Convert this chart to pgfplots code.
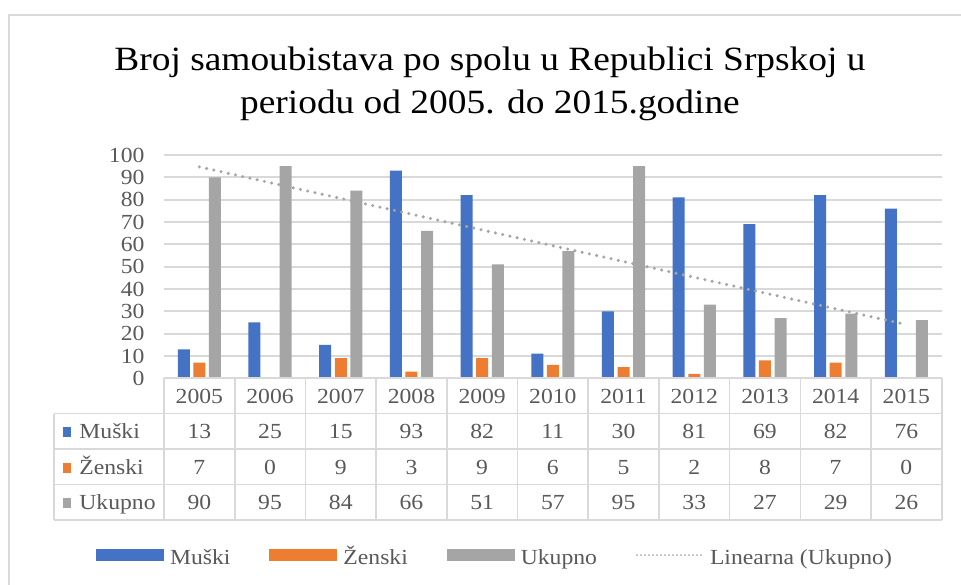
\documentclass[border=0pt]{standalone}
\usepackage{pgfplots}
\pgfplotsset{compat=1.18}
\usepackage{pgfplotstable}
\usepackage{fontspec}
\setmainfont{Liberation Serif}[FakeStretch=1.1]
\definecolor{cM}{HTML}{4472C4}
\definecolor{cZ}{HTML}{ED7D31}
\definecolor{cU}{HTML}{A5A5A5}
\definecolor{txt}{HTML}{595959}
\definecolor{grd}{HTML}{D9D9D9}
\newcommand\sm{\fontsize{21.5}{26}\selectfont}
\pgfplotstableread{
x year M Z U
0 2005 13 7 90
1 2006 25 0 95
2 2007 15 9 84
3 2008 93 3 66
4 2009 82 9 51
5 2010 11 6 57
6 2011 30 5 95
7 2012 81 2 33
8 2013 69 8 27
9 2014 82 7 29
10 2015 76 0 26
}\data
\begin{document}
\begin{tikzpicture}
\useasboundingbox (0,0) rectangle (961pt,585pt);
\begin{axis}[
  at={(164pt,206.7pt)}, anchor=south west,
  scale only axis, width=777.7pt, height=223.3pt,
  xmin=-0.5, xmax=10.5, ymin=0, ymax=100,
  ytick={0,10,...,100}, xtick=\empty,
  axis line style={draw=none}, major tick length=0pt,
  ymajorgrids, grid style={grd, line width=1.8pt},
  /pgf/number format/assume math mode=true,
  yticklabel style={font=\sm, text=txt, xshift=-16pt},
  legend style={at={(axis description cs:0.4256,-0.807)}, anchor=center,
    draw=none, fill=none, font=\sm, text=txt, legend columns=4,
    nodes={text height=1.45ex, text depth=0.25ex},
    /tikz/every odd column/.append style={column sep=4pt},
    /tikz/every even column/.append style={column sep=37pt}},
  legend cell align=left,
]
\addplot[ybar, bar width=12pt, bar shift=-15.6pt, fill=cM, draw=none,
  legend image code/.code={\fill[cM] (0pt,1pt) rectangle (68pt,13pt);}]
  table[x=x, y=M] {\data};
\addlegendentry{Muški}
\addplot[ybar, bar width=12pt, bar shift=0pt, fill=cZ, draw=none,
  legend image code/.code={\fill[cZ] (0pt,1pt) rectangle (68pt,13pt);}]
  table[x=x, y=Z] {\data};
\addlegendentry{Ženski}
\addplot[ybar, bar width=12pt, bar shift=15.6pt, fill=cU, draw=none,
  legend image code/.code={\fill[cU] (0pt,1pt) rectangle (68pt,13pt);}]
  table[x=x, y=U] {\data};
\addlegendentry{Ukupno}
\addplot[sharp plot, cU, line width=3.4pt, line cap=round, dash pattern=on 0pt off 7.4pt,
  legend image code/.code={\draw[cU, line width=2pt, line cap=round, dash pattern=on 0pt off 4pt] (0pt,7pt) -- (66pt,7pt);}]
  coordinates {(0,94.68) (10,24.05)};
\addlegendentry{Linearna (Ukupno)}
\end{axis}
\begin{scope}[x=1pt, y=-1pt, yshift=585pt]
  % outer frame
  \draw[grd, line width=2pt] (9,585) -- (9,15) -- (961,15);
  % title
  \node[anchor=base, font=\fontsize{34}{42}\selectfont] at (490,70.7) {Broj samoubistava po spolu u Republici Srpskoj u};
  \node[anchor=base, font=\fontsize{34}{42}\selectfont] at (490,113.5) {periodu od 2005. do 2015.godine};
  % data table grid
  \draw[grd, line width=1.6pt] (164,378.3) -- (941.7,378.3);
  \foreach \yy in {413.7,449.1,484.5,519.9}
    \draw[grd, line width=1.6pt] (54,\yy) -- (941.7,\yy);
  \draw[grd, line width=1.6pt] (54,413.7) -- (54,519.9);
  \foreach \k in {0,...,11}
    \draw[grd, line width=1.6pt] ({164+70.7*\k},378.3) -- ({164+70.7*\k},519.9);
  % row labels
  \node[anchor=base west, inner sep=0pt, font=\sm, text=txt] at (62.7,438.8)
    {\textcolor{cM}{\raisebox{1.5pt}{\rule{8.5pt}{10pt}}}\hspace{8pt}Muški};
  \node[anchor=base west, inner sep=0pt, font=\sm, text=txt] at (62.7,474.2)
    {\textcolor{cZ}{\raisebox{1.5pt}{\rule{8.5pt}{10pt}}}\hspace{8pt}Ženski};
  \node[anchor=base west, inner sep=0pt, font=\sm, text=txt] at (62.7,509.6)
    {\textcolor{cU}{\raisebox{1.5pt}{\rule{8.5pt}{10pt}}}\hspace{8pt}Ukupno};
  % cells
  \foreach \k in {0,...,10} {
    \pgfmathsetmacro\cx{164+70.7*(\k+0.5)}
    \pgfplotstablegetelem{\k}{year}\of\data
    \node[anchor=base, inner sep=0pt, font=\sm, text=txt] at (\cx,403.4) {\pgfplotsretval};
    \pgfplotstablegetelem{\k}{M}\of\data
    \node[anchor=base, inner sep=0pt, font=\sm, text=txt] at (\cx,438.8) {\pgfplotsretval};
    \pgfplotstablegetelem{\k}{Z}\of\data
    \node[anchor=base, inner sep=0pt, font=\sm, text=txt] at (\cx,474.2) {\pgfplotsretval};
    \pgfplotstablegetelem{\k}{U}\of\data
    \node[anchor=base, inner sep=0pt, font=\sm, text=txt] at (\cx,509.6) {\pgfplotsretval};
  }
\end{scope}
\end{tikzpicture}
\end{document}
